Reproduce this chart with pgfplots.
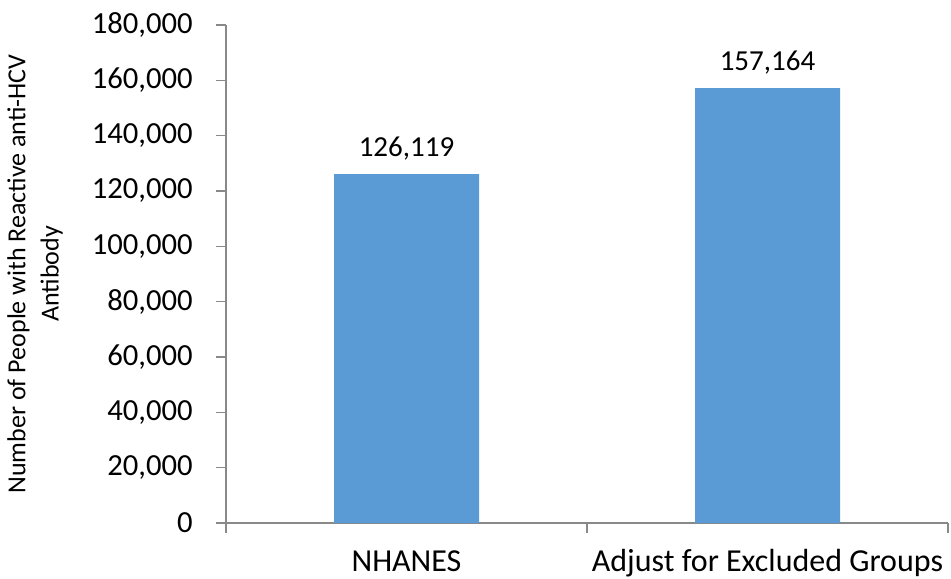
\documentclass[border=0pt]{standalone}
\usepackage{pgfplots}
\pgfplotsset{compat=1.18}
\usepackage{fontspec}
\setmainfont{Carlito}
\definecolor{barblue}{HTML}{5B9BD5}
\definecolor{axgray}{HTML}{898989}
\begin{document}
\begin{tikzpicture}
\begin{axis}[
  name=ax,
  scale only axis,
  width=541.5pt, height=373.5pt,
  xmin=-0.5, xmax=1.5,
  ymin=0, ymax=180000,
  axis x line=bottom, axis y line=left,
  axis line style={-, draw=axgray, line width=0.9pt},
  tick style={draw=axgray, line width=0.9pt},
  tick align=outside,
  major tick length=7.5pt,
  xtick={-0.5,0.5,1.5},
  x tick label as interval,
  xticklabels={NHANES, Adjust for Excluded Groups},
  xticklabel style={font=\fontsize{24pt}{28pt}\selectfont, anchor=base, yshift=-28.5pt, inner sep=0pt},
  ytick={0,20000,...,180000},
  scaled y ticks=false,
  yticklabel style={font=\fontsize{23pt}{27pt}\selectfont, anchor=east, inner sep=0pt, xshift=-17.25pt},
  /pgf/number format/.cd, fixed, 1000 sep={,}, assume math mode=true,
  /pgfplots/.cd,
  ylabel={Number of People with Reactive anti-HCV\\[-1pt]Antibody},
  ylabel style={at={(axis description cs:-0.2645,0.5)}, anchor=center, align=center, font=\fontsize{19.5pt}{26pt}\selectfont},
  clip=false,
]
\addplot[ybar, bar width=108.75pt, fill=barblue, draw=none,
  nodes near coords,
  every node near coord/.append style={font=\fontsize{21.75pt}{26pt}\selectfont, anchor=base, yshift=13.5pt, text=black},
  point meta=y,
] coordinates {(0,126119) (1,157164)};
\end{axis}
\pgfresetboundingbox
\path ([shift={(-169.5pt,-41.25pt)}]ax.south west) rectangle ([shift={(2.25pt,18.75pt)}]ax.north east);
\end{tikzpicture}
\end{document}
